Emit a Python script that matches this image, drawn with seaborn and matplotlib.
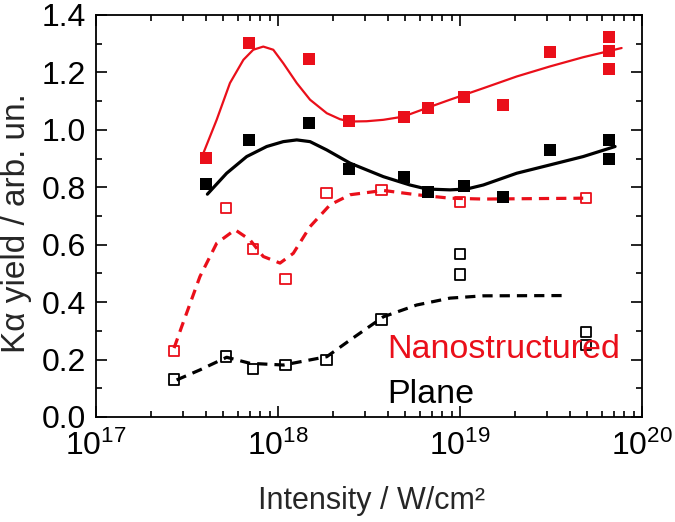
import numpy as np
import pandas as pd
import seaborn as sns
import matplotlib.pyplot as plt
from matplotlib.ticker import LogLocator, NullFormatter, MultipleLocator

# measured points, intensity in W/cm^2
nano_x = [4.0e17, 6.9e17, 1.48e18, 2.46e18, 4.9e18, 6.7e18, 1.05e19, 1.72e19,
          3.13e19, 6.57e19, 6.57e19, 6.57e19]
nano_y = [0.901, 1.304, 1.247, 1.031, 1.044, 1.077, 1.114, 1.087,
          1.271, 1.322, 1.275, 1.211]

plane_x = [4.0e17, 6.9e17, 1.48e18, 2.46e18, 4.9e18, 6.7e18, 1.05e19, 1.72e19,
           3.13e19, 6.57e19, 6.57e19]
plane_y = [0.811, 0.963, 1.025, 0.864, 0.837, 0.783, 0.806, 0.765,
           0.930, 0.965, 0.900]

nano_open_x = [2.68e17, 5.2e17, 7.3e17, 1.10e18, 1.85e18, 3.7e18, 9.96e18, 4.92e19]
nano_open_y = [0.231, 0.729, 0.585, 0.481, 0.780, 0.790, 0.748, 0.763]

plane_open_x = [2.68e17, 5.2e17, 7.3e17, 1.10e18, 1.85e18, 3.7e18, 1.0e19, 1.0e19,
                4.92e19, 4.92e19]
plane_open_y = [0.131, 0.211, 0.168, 0.180, 0.199, 0.340, 0.568, 0.496,
                0.297, 0.251]

# fitted curves (log10 of intensity)
nano_fit_lx = [17.590, 17.663, 17.736, 17.810, 17.864, 17.919, 17.974, 18.029,
               18.103, 18.176, 18.268, 18.341, 18.396, 18.487, 18.579, 18.688,
               18.817, 18.945, 19.128, 19.312, 19.495, 19.677, 19.888]
nano_fit_y = [0.919, 1.035, 1.163, 1.244, 1.279, 1.290, 1.279, 1.232,
              1.163, 1.105, 1.058, 1.037, 1.029, 1.030, 1.035, 1.046,
              1.076, 1.105, 1.145, 1.186, 1.221, 1.253, 1.285]

plane_fit_lx = [17.612, 17.718, 17.828, 17.938, 18.029, 18.103, 18.176, 18.268,
                18.396, 18.579, 18.725, 18.817, 18.945, 19.037, 19.128, 19.312,
                19.495, 19.677, 19.852]
plane_fit_y = [0.776, 0.849, 0.907, 0.942, 0.959, 0.965, 0.959, 0.930,
               0.884, 0.837, 0.808, 0.794, 0.791, 0.794, 0.808, 0.849,
               0.878, 0.907, 0.942]

nano_open_fit_lx = [17.429, 17.471, 17.571, 17.663, 17.764, 17.846, 17.919, 18.011,
                    18.084, 18.176, 18.286, 18.396, 18.579, 18.762, 18.945, 19.128,
                    19.677]
nano_open_fit_y = [0.240, 0.315, 0.489, 0.605, 0.652, 0.617, 0.559, 0.536,
                   0.570, 0.663, 0.739, 0.774, 0.789, 0.774, 0.762, 0.759,
                   0.762]

plane_open_fit_lx = [17.443, 17.571, 17.718, 17.846, 18.029, 18.268, 18.396, 18.579,
                     18.762, 18.945, 19.128, 19.595]
plane_open_fit_y = [0.129, 0.164, 0.208, 0.187, 0.181, 0.210, 0.268, 0.349,
                    0.390, 0.414, 0.422, 0.423]

RED = '#ea0f1a'

sns.set_theme(style='ticks')
plt.rcParams['font.family'] = ['Liberation Sans', 'DejaVu Sans']
plt.rcParams['mathtext.fontset'] = 'custom'
plt.rcParams['mathtext.rm'] = 'Liberation Sans'
plt.rcParams['mathtext.default'] = 'regular'

fig = plt.figure(figsize=(6.75, 5.22), dpi=100)
ax = fig.add_axes([96 / 675, 1 - 417 / 522, 546 / 675, 402 / 522])
ax.set_xscale('log')

# fit curves
sns.lineplot(x=10 ** np.array(nano_fit_lx), y=nano_fit_y, ax=ax, color=RED,
             lw=1.6, sort=False, estimator=None)
sns.lineplot(x=10 ** np.array(plane_fit_lx), y=plane_fit_y, ax=ax, color='black',
             lw=2.3, sort=False, estimator=None)
sns.lineplot(x=10 ** np.array(nano_open_fit_lx), y=nano_open_fit_y, ax=ax,
             color=RED, lw=2.3, sort=False, estimator=None)
sns.lineplot(x=10 ** np.array(plane_open_fit_lx), y=plane_open_fit_y, ax=ax,
             color='black', lw=2.3, sort=False, estimator=None)
for line in ax.lines[2:4]:
    line.set_dashes([3.2, 2.2])

# data points
sns.scatterplot(x=nano_x, y=nano_y, ax=ax, marker='s', s=75, color=RED,
                edgecolor='none', zorder=3)
sns.scatterplot(x=plane_x, y=plane_y, ax=ax, marker='s', s=75, color='black',
                edgecolor='none', zorder=3)
sns.scatterplot(x=nano_open_x, y=nano_open_y, ax=ax, marker='s', s=55,
                color=RED, zorder=3)
ax.collections[-1].set_facecolor('none')
ax.collections[-1].set_edgecolor(RED)
ax.collections[-1].set_linewidth(1.3)
sns.scatterplot(x=plane_open_x, y=plane_open_y, ax=ax, marker='s', s=55,
                color='black', zorder=3)
ax.collections[-1].set_facecolor('none')
ax.collections[-1].set_edgecolor('black')
ax.collections[-1].set_linewidth(1.3)

ax.text(4.0e18, 0.2045, 'Nanostructured', color=RED, fontsize=24.5, va='baseline')
ax.text(4.0e18, 0.0477, 'Plane', color='black', fontsize=24.5, va='baseline')

ax.set_xlim(1e17, 1e20)
ax.set_ylim(0, 1.4)
ax.yaxis.set_major_locator(MultipleLocator(0.2))
ax.yaxis.set_minor_locator(MultipleLocator(0.1))
ax.xaxis.set_major_locator(LogLocator(base=10, numticks=10))
ax.xaxis.set_minor_locator(LogLocator(base=10, subs=np.arange(2, 10), numticks=20))
ax.xaxis.set_minor_formatter(NullFormatter())
ax.yaxis.set_major_formatter(plt.FuncFormatter(lambda v, p: f'{v:.1f}'))

ax.tick_params(which='both', direction='in', top=True, right=True, width=1.2,
               colors='black', labelsize=23)
ax.tick_params(which='major', length=8)
ax.tick_params(which='minor', length=4.5)
ax.tick_params(axis='x', pad=10)
ax.tick_params(axis='y', pad=7)
for sp in ax.spines.values():
    sp.set_linewidth(1.3)
    sp.set_color('black')

ax.set_xlabel('Intensity / W/cm²', fontsize=22)
ax.xaxis.label.set_va('baseline')
ax.xaxis.set_label_coords(0.505, -0.229)
ax.set_ylabel('K\u03b1 yield / arb. un.', fontsize=24)
ax.yaxis.set_label_coords(-0.118, 0.483)

fig.savefig('out.png', dpi=100)
